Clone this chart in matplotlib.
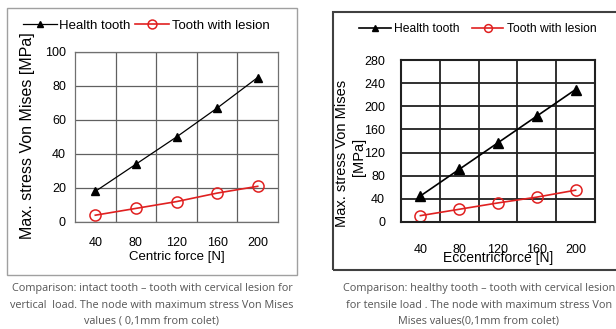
import matplotlib.pyplot as plt
from matplotlib.patches import Rectangle

plt.rcParams['font.family'] = ['Liberation Sans', 'DejaVu Sans']

forces = ["40", "80", "120", "160", "200"]

# centric (vertical) load
centric_health = [18, 34, 50, 67, 85]
centric_lesion = [4, 8, 12, 17, 21]

# eccentric (tensile) load
ecc_health = [45, 91, 137, 183, 229]
ecc_lesion = [11, 22, 33, 43, 55]

W, H = 616, 329
fig = plt.figure(figsize=(W / 100, H / 100), dpi=100)


def box(x0, y0, x1, y1):
    # pixel coords -> figure fraction
    return [x0 / W, 1 - y1 / H, (x1 - x0) / W, (y1 - y0) / H]


# outer frames
l = box(7, 8, 297, 275)
fig.patches.append(Rectangle((l[0], l[1]), l[2], l[3], transform=fig.transFigure,
                             fill=False, edgecolor='#a0a0a0', lw=1.0))
r = box(333, 12, 625, 270)
fig.patches.append(Rectangle((r[0], r[1]), r[2], r[3], transform=fig.transFigure,
                             fill=False, edgecolor='#404040', lw=1.5))

"""left chart"""
ax1 = fig.add_axes(box(75, 52, 278, 222))
ax1.plot(forces, centric_health, '-^', color='black', lw=0.9, ms=6, label='Health tooth')
ax1.plot(forces, centric_lesion, '-o', color='#e02020', lw=1.2, ms=8, mfc='none',
         mec='#e02020', mew=1.1, label='Tooth with lesion')
ax1.set_xlim(-0.5, 4.5)
ax1.set_ylim(0, 100)
ax1.set_yticks(range(0, 101, 20))
ax1.set_xticks([0.5, 1.5, 2.5, 3.5], minor=True)
ax1.grid(True, which='minor', axis='x', color='#606060', lw=0.9)
ax1.grid(True, which='major', axis='y', color='#606060', lw=0.9)
ax1.tick_params(which='both', length=0)
ax1.tick_params(axis='y', pad=6.5, labelsize=9)
ax1.tick_params(axis='x', pad=11, labelsize=9)
for s in ax1.spines.values():
    s.set_color('#707070')
    s.set_linewidth(0.9)
ax1.set_xlabel('Centric force [N]', fontsize=9.5, labelpad=1)
fig.text(28 / W, 1 - 136 / H, 'Max. stress Von Mises [MPa]', rotation=90,
         ha='center', va='center', fontsize=11.5)
ax1.legend(loc='center', bbox_to_anchor=(146 / W, 1 - 26 / H), bbox_transform=fig.transFigure,
           ncol=2, frameon=False, fontsize=9.5, handlelength=2.6, handletextpad=0.2,
           columnspacing=0.3, markerscale=0.8)

"""right chart"""
ax2 = fig.add_axes(box(401, 60, 595, 222))
ax2.plot(forces, ecc_health, '-^', color='black', lw=1.2, ms=6.5, label='Health tooth')
ax2.plot(forces, ecc_lesion, '-o', color='#e02020', lw=1.2, ms=8, mfc='none',
         mec='#e02020', mew=1.1, label='Tooth with lesion')
ax2.set_xlim(-0.5, 4.5)
ax2.set_ylim(0, 280)
ax2.set_yticks(range(0, 281, 40))
ax2.set_xticks([0.5, 1.5, 2.5, 3.5], minor=True)
ax2.grid(True, which='minor', axis='x', color='#202020', lw=1.3)
ax2.grid(True, which='major', axis='y', color='#202020', lw=1.3)
ax2.tick_params(which='both', length=0)
ax2.tick_params(axis='y', pad=11.5, labelsize=9)
ax2.tick_params(axis='x', pad=16, labelsize=9)
for s in ax2.spines.values():
    s.set_color('#202020')
    s.set_linewidth(1.5)
ax2.set_xlabel('Eccentricforce [N]', fontsize=10, labelpad=-3.5)
fig.text(342 / W, 1 - 153 / H, 'Max. stress Von Mises', rotation=90,
         ha='center', va='center', fontsize=10.5)
fig.text(359 / W, 1 - 157 / H, '[MPa]', rotation=90,
         ha='center', va='center', fontsize=10.5)
ax2.legend(loc='center', bbox_to_anchor=(478 / W, 1 - 29 / H), bbox_transform=fig.transFigure,
           ncol=2, frameon=False, fontsize=8.7, handlelength=2.6, handletextpad=0.3,
           columnspacing=1.0, markerscale=0.7)

"""captions"""
cap_kw = dict(ha='center', va='center', fontsize=7.8, color='#555555', family='Open Sans')
fig.text(152 / W, 1 - 288 / H, 'Comparison: intact tooth \u2013 tooth with cervical lesion for', **cap_kw)
fig.text(152 / W, 1 - 305 / H, 'vertical  load. The node with maximum stress Von Mises', **cap_kw)
fig.text(152 / W, 1 - 321 / H, 'values ( 0,1mm from colet)', **cap_kw)
fig.text(479 / W, 1 - 288 / H, 'Comparison: healthy tooth \u2013 tooth with cervical lesion', **cap_kw)
fig.text(479 / W, 1 - 305 / H, 'for tensile load . The node with maximum stress Von', **cap_kw)
fig.text(479 / W, 1 - 321 / H, 'Mises values(0,1mm from colet)', **cap_kw)

plt.savefig('out.png', dpi=100)
